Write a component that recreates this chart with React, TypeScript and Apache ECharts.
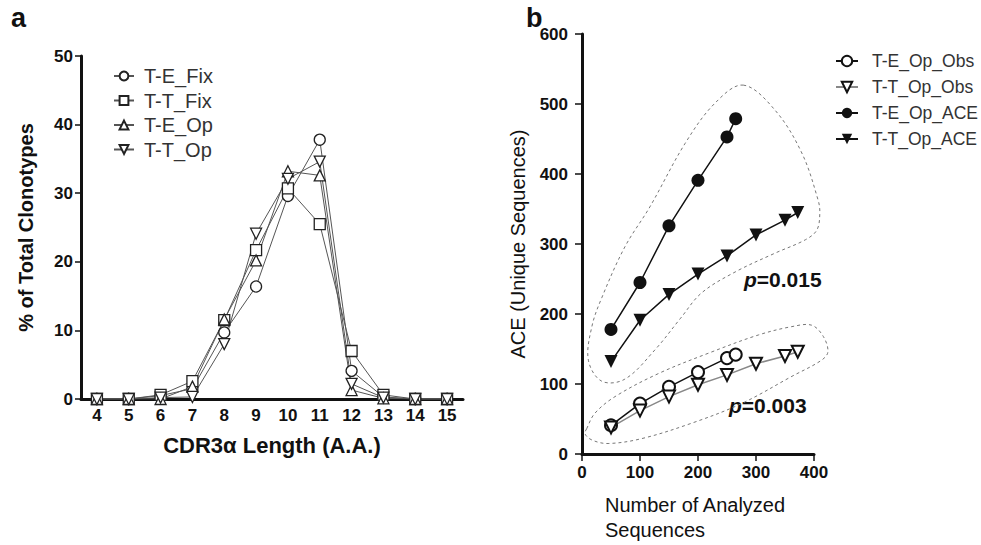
import React, { useEffect, useRef } from "react";
import * as echarts from "echarts";

// ---------- Panel a data ----------
const cdr3Lengths = ["4", "5", "6", "7", "8", "9", "10", "11", "12", "13", "14", "15"];
const teFix = [0, 0, 0.5, 1.5, 9.7, 16.4, 29.6, 37.8, 4.1, 0.3, 0, 0];
const ttFix = [0, 0, 0.6, 2.6, 11.5, 21.7, 30.7, 25.5, 7.0, 0.6, 0, 0];
const teOp = [0, 0, 0, 1.8, 11.6, 20.2, 33.2, 32.6, 1.3, 0.1, 0, 0];
const ttOp = [0, 0, 0.2, 0.3, 8.0, 24.1, 32.1, 34.6, 2.2, 0.2, 0, 0];
const panelAYTicks = { min: 0, max: 50, interval: 10 };

// ---------- Panel b data ----------
const nSeqE = [50, 100, 150, 200, 250, 265];
const teOpObs = [41, 72, 96, 117, 137, 142];
const teOpAce = [178, 245, 326, 391, 453, 479];
const nSeqT = [50, 100, 150, 200, 250, 300, 350, 372];
const ttOpObs = [38, 62, 82, 99, 113, 129, 140, 146];
const ttOpAce = [132, 191, 228, 257, 283, 313, 334, 345];
const panelBXTicks = { min: 0, max: 400, interval: 100 };
const panelBYTicks = { min: 0, max: 600, interval: 100 };

// dashed outline annotations (data coordinates of panel b)
const upperOutline = [
  [278, 527], [333, 491], [379, 430], [407, 363], [410, 344], [405, 320], [385, 306],
  [333, 287], [264, 260], [206, 230], [170, 194], [126, 149], [74, 107], [34, 104],
  [11, 134], [17, 182], [34, 223], [74, 296], [117, 353], [178, 444], [229, 501],
];
const lowerOutline = [
  [8, 36], [22, 58], [57, 82], [132, 115], [218, 144], [304, 170], [362, 182], [396, 184],
  [416, 168], [424, 146], [413, 134], [362, 111], [275, 72], [189, 44], [103, 22],
  [45, 15], [17, 20], [5, 29],
];
const pValueUpper = "0.015";
const pValueLower = "0.003";

const FONT = "'Liberation Sans', Arial, Helvetica, sans-serif";

const pair = (xs: number[], ys: number[]) => xs.map((x, i) => [x, ys[i]]);

export default function App() {
  const ref = useRef<HTMLDivElement>(null);

  useEffect(() => {
    if (!ref.current) return;
    const chart = echarts.init(ref.current, null, { renderer: "svg" });

    const tickLabel = { fontFamily: FONT, fontSize: 17, fontWeight: "bold", color: "#111" };
    const leftSym = { color: "#fff", borderColor: "#222", borderWidth: 1.3 };
    const leftLine = { color: "#555", width: 1 };

    const option: any = {
      animation: false,
      backgroundColor: "#fff",
      textStyle: { fontFamily: FONT },
      grid: [
        { left: 81, top: 56, width: 382, height: 343 },
        { left: 582, top: 34, width: 232, height: 420 },
      ],
      xAxis: [
        {
          gridIndex: 0,
          type: "category",
          data: cdr3Lengths,
          boundaryGap: true,
          name: "CDR3\u03b1 Length (A.A.)",
          nameLocation: "middle",
          nameGap: 35,
          nameTextStyle: { fontFamily: FONT, fontSize: 22, fontWeight: "bold", color: "#111" },
          axisLine: { lineStyle: { color: "#111", width: 3 } },
          axisTick: { alignWithLabel: true, length: 6, lineStyle: { width: 1.5, color: "#111" } },
          axisLabel: { ...tickLabel, margin: 8 },
          splitLine: { show: false },
        },
        {
          gridIndex: 1,
          type: "value",
          ...panelBXTicks,
          axisLine: { show: true, lineStyle: { color: "#111", width: 3 } },
          axisTick: { show: true, length: 7, lineStyle: { width: 1.5, color: "#111" } },
          axisLabel: { ...tickLabel, margin: 10 },
          splitLine: { show: false },
        },
      ],
      yAxis: [
        {
          gridIndex: 0,
          type: "value",
          ...panelAYTicks,
          name: "% of Total Clonotypes",
          nameLocation: "middle",
          nameRotate: 90,
          nameGap: 45,
          nameTextStyle: { fontFamily: FONT, fontSize: 20, fontWeight: "bold", color: "#111" },
          axisLine: { show: true, lineStyle: { color: "#111", width: 3 } },
          axisTick: { show: true, length: 6, lineStyle: { width: 1.5, color: "#111" } },
          axisLabel: { ...tickLabel, margin: 8 },
          splitLine: { show: false },
        },
        {
          gridIndex: 1,
          type: "value",
          ...panelBYTicks,
          name: "ACE (Unique Sequences)",
          nameLocation: "middle",
          nameRotate: 90,
          nameGap: 54,
          nameTextStyle: { fontFamily: FONT, fontSize: 20, color: "#111" },
          axisLine: { show: true, lineStyle: { color: "#111", width: 3 } },
          axisTick: { show: true, length: 7, lineStyle: { width: 1.5, color: "#111" } },
          axisLabel: { ...tickLabel, margin: 14 },
          splitLine: { show: false },
        },
      ],
      legend: [
        {
          data: ["T-E_Fix", "T-T_Fix", "T-E_Op", "T-T_Op"],
          orient: "vertical",
          left: 108,
          top: 61,
          itemWidth: 20,
          itemHeight: 11,
          itemGap: 4.5,
          textStyle: { fontFamily: FONT, fontSize: 20, color: "#333", padding: [0, 0, 0, 5] },
        },
        {
          data: ["T-E_Op_Obs", "T-T_Op_Obs", "T-E_Op_ACE", "T-T_Op_ACE"],
          orient: "vertical",
          left: 830,
          top: 47,
          itemWidth: 22,
          itemHeight: 13,
          itemGap: 8,
          textStyle: { fontFamily: FONT, fontSize: 17.5, color: "#333", padding: [0, 0, 0, 9] },
        },
      ],
      series: [
        {
          name: "T-E_Fix", type: "line", xAxisIndex: 0, yAxisIndex: 0, data: teFix,
          symbol: "circle", symbolSize: 11, itemStyle: leftSym, lineStyle: leftLine,
        },
        {
          name: "T-T_Fix", type: "line", xAxisIndex: 0, yAxisIndex: 0, data: ttFix,
          symbol: "rect", symbolSize: 11, itemStyle: leftSym, lineStyle: leftLine,
        },
        {
          name: "T-E_Op", type: "line", xAxisIndex: 0, yAxisIndex: 0, data: teOp,
          symbol: "triangle", symbolSize: 11, itemStyle: leftSym, lineStyle: leftLine,
        },
        {
          name: "T-T_Op", type: "line", xAxisIndex: 0, yAxisIndex: 0, data: ttOp,
          symbol: "triangle", symbolRotate: 180, symbolSize: 11, itemStyle: leftSym, lineStyle: leftLine,
        },
        {
          name: "T-E_Op_Obs", type: "line", xAxisIndex: 1, yAxisIndex: 1, data: pair(nSeqE, teOpObs),
          symbol: "circle", symbolSize: 12,
          itemStyle: { color: "#fff", borderColor: "#111", borderWidth: 2 },
          lineStyle: { color: "#111", width: 1.5 },
        },
        {
          name: "T-T_Op_Obs", type: "line", xAxisIndex: 1, yAxisIndex: 1, data: pair(nSeqT, ttOpObs),
          symbol: "triangle", symbolRotate: 180, symbolSize: 12,
          itemStyle: { color: "#fff", borderColor: "#111", borderWidth: 2 },
          lineStyle: { color: "#888", width: 1.5 },
        },
        {
          name: "T-E_Op_ACE", type: "line", xAxisIndex: 1, yAxisIndex: 1, data: pair(nSeqE, teOpAce),
          symbol: "circle", symbolSize: 13,
          itemStyle: { color: "#111", borderColor: "#111", borderWidth: 0 },
          lineStyle: { color: "#111", width: 1.5 },
        },
        {
          name: "T-T_Op_ACE", type: "line", xAxisIndex: 1, yAxisIndex: 1, data: pair(nSeqT, ttOpAce),
          symbol: "triangle", symbolRotate: 180, symbolSize: 13,
          itemStyle: { color: "#111", borderColor: "#111", borderWidth: 0 },
          lineStyle: { color: "#111", width: 1.5 },
        },
      ],
    };

    chart.setOption(option);

    const toPix = (pts: number[][]) =>
      pts.map((p) => chart.convertToPixel({ xAxisIndex: 1, yAxisIndex: 1 } as any, p) as number[]);

    const outlineStyle = { fill: "none", stroke: "#777", lineWidth: 1, lineDash: [3, 3] };
    const pRich = {
      i: { fontFamily: FONT, fontSize: 21, fontWeight: "bold", fontStyle: "italic", fill: "#111" },
      n: { fontFamily: FONT, fontSize: 21, fontWeight: "bold", fill: "#111" },
    };

    chart.setOption({
      graphic: [
        {
          id: "upperOutline", type: "polygon", silent: true, z: 1,
          shape: { points: toPix(upperOutline), smooth: 0.35 },
          style: outlineStyle,
        },
        {
          id: "lowerOutline", type: "polygon", silent: true, z: 1,
          shape: { points: toPix(lowerOutline), smooth: 0.35 },
          style: outlineStyle,
        },
        {
          id: "labelA", type: "text", left: 11, top: 4,
          style: { text: "a", font: `bold 27px ${FONT}`, fill: "#111" },
        },
        {
          id: "labelB", type: "text", left: 526, top: 4,
          style: { text: "b", font: `bold 27px ${FONT}`, fill: "#111" },
        },
        {
          id: "pUpper", type: "text", left: 744, top: 269,
          style: { text: `{i|p}{n|=${pValueUpper}}`, rich: pRich },
        },
        {
          id: "pLower", type: "text", left: 729, top: 395,
          style: { text: `{i|p}{n|=${pValueLower}}`, rich: pRich },
        },
        {
          id: "xNameB", type: "text", left: 605, top: 492,
          style: {
            text: "Number of Analyzed\nSequences",
            font: `20px ${FONT}`,
            lineHeight: 25,
            fill: "#111",
            textAlign: "left",
          },
        },
      ],
    });

    return () => chart.dispose();
  }, []);

  return (
    <div
      ref={ref}
      style={{ position: "absolute", left: 0, top: 0, width: 981, height: 545, background: "#fff" }}
    />
  );
}
